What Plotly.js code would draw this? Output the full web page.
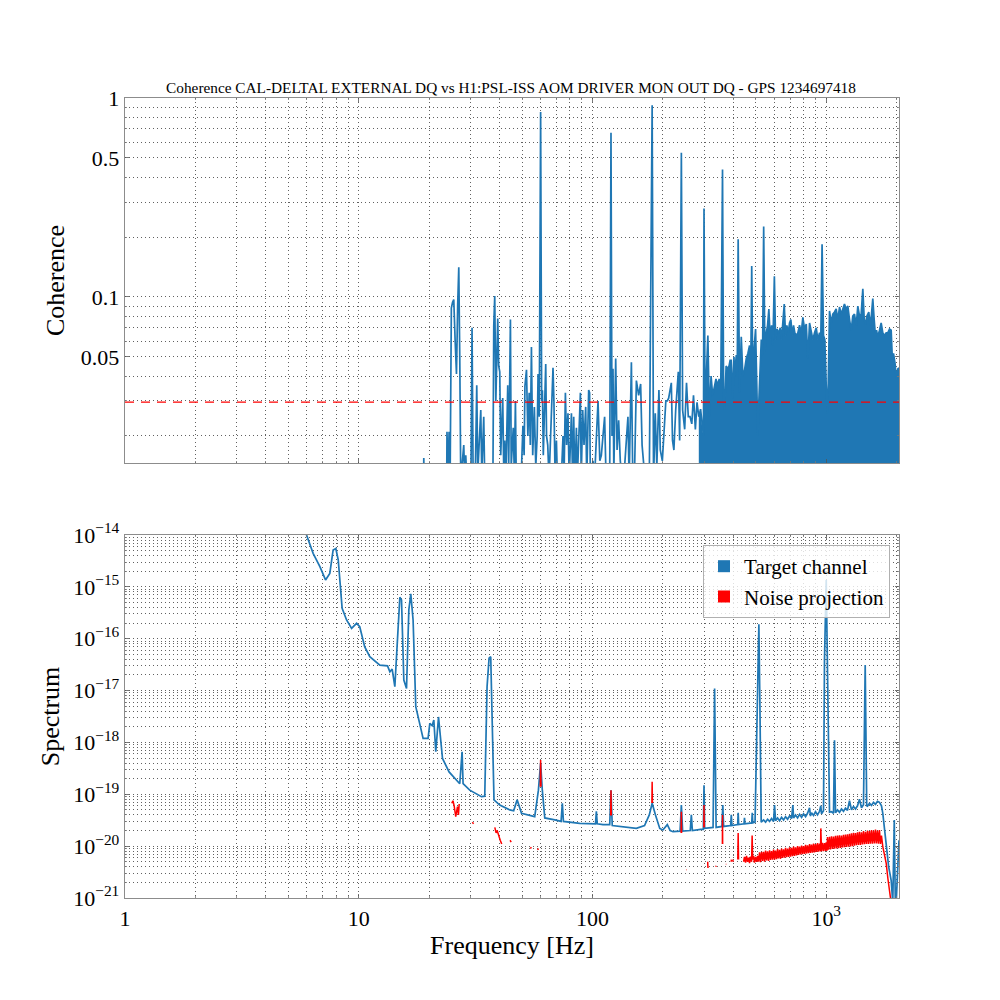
<!DOCTYPE html>
<html>
<head>
<meta charset="utf-8">
<script src="https://cdn.plot.ly/plotly-3.0.1.min.js"></script>
<style>html,body{margin:0;padding:0;background:#fff}#chart{width:1000px;height:1000px}</style>
</head>
<body>
<div id="chart"></div>
<script>
// ---------------- DATA ----------------
const titleText = 'Coherence CAL-DELTAL EXTERNAL DQ vs H1:PSL-ISS AOM DRIVER MON OUT DQ - GPS 1234697418';

// Coherence (top panel)
const freqCoh = [1,18.8,18.98,19.2,23.7,23.85,24.1,24.35,24.6,24.9,25.2,25.5,25.85,26.19,26.5,26.79,27.05,27.32,28.14,28.4,28.7,29.0,30.2,30.53,30.85,31.5,31.98,32.3,33.27,33.6,34.26,34.6,37.5,37.81,38.18,38.6,39.32,39.7,40.11,40.5,41.3,41.7,42.13,42.6,43.39,43.8,44.56,44.9,45.81,46.3,46.81,47.2,49.5,50.4,51.0,51.4,52.2,52.9,53.6,54.2,54.8,55.5,56.4,57.2,58.0,58.5,59.2,60,60.6,61.07,61.6,62.3,63.09,63.6,64.35,65.2,66.5,67.78,68.4,69.2,70.1,70.8,73.5,74.8,75.6,76.58,77.5,78.56,79.5,81.26,82.2,83.12,84.0,85.35,86.1,88.78,89.5,90.81,92,93.53,94.5,96.32,97.2,97.94,100.5,102,105.6,106.6,107.5,109.1,112.7,114,116.1,118.5,120,121.2,122.4,123.4,125.7,127.4,129.4,131.5,133.3,136,141.8,143.5,146.7,148.5,151.5,154.1,157.6,160.7,163,166,170,175,180,182.5,185.6,188.5,192.4,195,199,206,209,211.8,217.4,220,223,227,232.9,236,240,243,248,252.5,257,261.4,266,270.5,275.5,280,285,290,295,298.5,300,303,306.6,311.6,316.6,321.6,326.7,332,337.5,343,348.5,354,360,364,367.5,373,379,384,388,392.5,398.7,403,405.4,412.3,416,420,425.9,433,439.9,447.4,454.9,462.2,469.9,476,480,484.1,488.9,498.6,505,510,515,527.4,534.1,540,546.3,553.9,561.1,568.3,576.2,583.7,591.2,600,607.1,615,627.2,635.9,643.9,652.2,661.3,669.9,678.4,687.8,696.7,705.8,715.4,724.7,734.1,744.2,756.1,769,782,794.3,807.8,821.4,834.4,848.6,862.8,876.6,891.2,906.2,920.6,936.1,948.3,960,973.6,986.3,1000,1010,1019.8,1033,1050.5,1067,1085,1103,1121,1140,1159,1178,1197,1217,1237,1258,1279,1299,1321,1344,1365,1388,1411,1434,1454,1472,1491,1521,1542,1562,1582,1604,1620,1641,1662,1690,1718,1746,1775,1805,1834,1865,1896,1915,1940,1972,1992,2024,2048];
const coherence = [0.005,0.005,0.0155,0.005,0.005,0.021,0.012,0.021,0.012,0.088,0.094,0.097,0.06,0.041,0.09,0.141,0.05,0.012,0.018,0.012,0.016,0.012,0.012,0.070,0.013,0.012,0.036,0.013,0.027,0.013,0.025,0.012,0.012,0.071,0.101,0.03,0.078,0.045,0.042,0.016,0.031,0.014,0.019,0.012,0.036,0.014,0.077,0.014,0.022,0.013,0.030,0.012,0.012,0.0225,0.016,0.0356,0.043,0.02,0.033,0.018,0.056,0.016,0.028,0.014,0.02,0.041,0.025,0.85,0.03,0.034,0.016,0.024,0.046,0.02,0.018,0.012,0.022,0.044,0.03,0.012,0.019,0.012,0.012,0.02,0.013,0.033,0.018,0.026,0.012,0.026,0.012,0.025,0.012,0.022,0.012,0.033,0.012,0.027,0.018,0.028,0.012,0.034,0.033,0.012,0.015,0.012,0.030,0.023,0.015,0.016,0.025,0.014,0.013,0.013,0.668,0.02,0.0435,0.013,0.049,0.017,0.024,0.015,0.013,0.012,0.025,0.012,0.047,0.014,0.014,0.038,0.032,0.0365,0.018,0.014,0.014,0.012,0.92,0.012,0.026,0.014,0.034,0.017,0.015,0.030,0.030,0.031,0.037,0.019,0.017,0.027,0.042,0.019,0.53,0.027,0.0216,0.037,0.025,0.025,0.023,0.032,0.0216,0.0295,0.025,0.0273,0.0216,0.020,0.278,0.03,0.0387,0.064,0.025,0.040,0.032,0.036,0.0387,0.036,0.0387,0.037,0.437,0.03,0.0273,0.045,0.0435,0.045,0.048,0.048,0.031,0.05,0.040,0.051,0.04,0.195,0.033,0.063,0.040,0.043,0.049,0.052,0.057,0.049,0.143,0.05,0.051,0.069,0.03,0.020,0.03,0.061,0.051,0.226,0.053,0.066,0.072,0.087,0.061,0.072,0.057,0.127,0.061,0.069,0.066,0.070,0.061,0.080,0.092,0.064,0.072,0.066,0.074,0.077,0.064,0.072,0.066,0.064,0.066,0.072,0.066,0.079,0.069,0.073,0.049,0.074,0.066,0.061,0.066,0.070,0.061,0.066,0.064,0.184,0.064,0.061,0.036,0.026,0.036,0.085,0.074,0.082,0.084,0.087,0.077,0.089,0.082,0.087,0.092,0.087,0.090,0.077,0.068,0.080,0.082,0.072,0.090,0.080,0.082,0.110,0.077,0.073,0.080,0.084,0.072,0.082,0.098,0.077,0.066,0.068,0.063,0.068,0.074,0.066,0.064,0.066,0.066,0.069,0.068,0.051,0.052,0.046,0.0387,0.0435,0.044];

// Significance threshold (red dashed)
const thresholdFreq = [1, 2048];
const thresholdVal = [0.0296, 0.0296];

// Target channel spectrum (bottom, blue)
const freqTarget = [5.0,5.98,6.38,6.82,7.21,7.52,7.77,7.98,8.17,8.49,8.87,9.32,9.79,10.1,10.6,11.15,12.31,13.28,13.59,13.9,14.27,14.74,14.99,15.24,15.59,16.01,16.38,16.70,17.08,17.54,18.13,18.85,19.8,20.14,20.6,20.95,21.36,21.94,22.82,24.35,27.05,27.68,27.95,29.85,33.5,34.6,35.4,36.1,36.7,37.3,37.9,40.1,44.3,46.0,47.6,49.7,56.6,58.7,60.0,61.0,62.5,69.0,73.4,74.3,75.1,88.2,103.0,103.9,104.8,110.9,118.5,120.0,121.5,154,167,175,180,186,194,200,209,215,221,237,240,243,262,264.8,267.5,290,298,300,302,328,333,338,358,361,364,390,392.5,395,418,420,422,445,447,449,480,482.6,485,496,506,510.5,515,520,527,539.4,550.1,561.0,572.2,583.6,595.2,601,607.1,619.2,631.5,644.1,656.9,669.9,683.3,696.9,710.7,719.8,724.9,739.3,754.1,769.0,784.4,799.9,815.9,831.8,848.6,856,865.1,882.4,899.9,917.9,936.1,948,954.8,973.6,983,1000,1008,1020,1033,1053.4,1074.5,1085,1095.7,1117.6,1139.7,1162.5,1185.5,1209.2,1233.1,1257.7,1282.6,1308.3,1334.2,1360.8,1387.7,1415.5,1443.5,1468,1490,1501.4,1531.4,1561.7,1592.9,1624.4,1656.8,1689.6,1723.3,1746,1775,1805,1850,1896,1926,1955,1975,1992,2030,2048];
const target = [4.0e-14,1.0e-14,4.43e-15,2.45e-15,1.36e-15,1.82e-15,5.14e-15,5.5e-15,3.3e-15,3.85e-16,2.3e-16,1.58e-16,1.98e-16,1.7e-16,7.0e-17,4.5e-17,3.1e-17,3.0e-17,2.3e-17,2.6e-17,1.19e-17,2.3e-16,6.3e-16,5.6e-16,1.6e-17,1.1e-17,3.6e-16,7.3e-16,2.3e-16,4.9e-18,2.7e-18,1.2e-18,1.2e-18,2.34e-18,2.1e-18,2.7e-18,6.6e-19,3.1e-18,4.9e-19,2.7e-19,1.6e-19,6.6e-19,1.6e-19,1.2e-19,9.0e-20,9.2e-20,1.19e-17,4.2e-17,4.5e-17,1.1e-18,7.8e-20,6.2e-20,5.0e-20,4.8e-20,7.8e-20,4.3e-20,3.7e-20,1.2e-19,4.0e-19,1.2e-19,3.5e-20,3.2e-20,3.0e-20,6.7e-20,3.0e-20,2.75e-20,2.7e-20,4.7e-20,2.7e-20,2.6e-20,2.6e-20,1.2e-19,2.5e-20,2.2e-20,2.5e-20,4.0e-20,6.7e-20,4.0e-20,2.2e-20,2.05e-20,2.6e-20,2.0e-20,1.9e-20,1.95e-20,6.2e-20,1.95e-20,2.0e-20,4.0e-20,2.0e-20,2.1e-20,2.1e-20,1.5e-19,2.2e-20,2.3e-20,1.1e-17,2.3e-20,2.4e-20,6.2e-20,2.4e-20,2.5e-20,4.0e-20,2.5e-20,2.6e-20,4.4e-20,2.6e-20,2.7e-20,3.5e-20,2.7e-20,2.8e-20,4.4e-20,2.8e-20,2.9e-20,6.6e-18,1.6e-17,1.9e-16,6.6e-18,2.9e-20,3.2e-20,2.9e-20,3.3e-20,3.0e-20,3.4e-20,3.0e-20,6.2e-20,3.1e-20,3.5e-20,3.1e-20,3.6e-20,3.2e-20,3.7e-20,3.3e-20,3.8e-20,3.4e-20,6.2e-20,3.5e-20,4.0e-20,3.5e-20,4.1e-20,3.6e-20,4.2e-20,3.7e-20,4.3e-20,5.5e-20,3.8e-20,4.4e-20,3.9e-20,4.6e-20,4.0e-20,4.7e-20,6.0e-20,4.2e-20,4.8e-20,3.9e-17,1.36e-15,9.4e-17,4.6e-19,4.5e-20,4.6e-20,4.3e-20,1.1e-18,4.4e-20,5.0e-20,4.5e-20,5.2e-20,4.7e-20,5.4e-20,4.9e-20,7.5e-20,5.0e-20,5.8e-20,5.2e-20,6.0e-20,8.0e-20,5.5e-20,6.3e-20,3.1e-17,6.0e-20,5.9e-20,6.7e-20,6.1e-20,7.0e-20,6.4e-20,7.3e-20,7.0e-20,6.0e-20,4.3e-20,2.0e-20,9.9e-21,4.0e-21,2.2e-21,8.0e-22,3.2e-20,8.0e-22,8.0e-22,5.5e-21,1.3e-20];

// Noise projection (bottom, red); null separates segments
const freqNoise = [25.0,25.3,25.6,25.8,26.0,26.2,26.45,26.7,26.9,null,30.6,31.0,null,38.2,38.7,39.1,39.7,40.3,40.9,null,44.4,44.9,null,54.2,54.8,null,58.2,58.7,null,59.8,60.0,60.2,null,119.6,120.0,120.4,null,179.5,180,180.5,null,239.5,240,240.5,null,252,253,null,299.5,300,300.5,null,311,312,null,337,338,null,359.5,360,360.5,null,372,373.5,null,392,393,null,398,400,null,418.5,420,421.5,null,
443,447,451.8,456,460.8,465,469.9,474,479.3,482,484.5,488.9,493,498.6,503,508.5,513,518.6,523,528.9,534,539.4,544.7,550.1,555.5,561.0,566.6,572.2,577.9,583.6,589.4,595.2,601.1,607.1,613.1,619.2,625.3,631.5,637.8,644.1,650.5,656.9,663.4,669.9,676.6,683.3,690.0,696.9,703.8,710.7,717.8,724.9,732.0,739.3,746.7,754.1,761.5,769.0,776.7,784.4,792.1,799.9,807.9,815.9,823.8,831.8,840.2,848.6,856.8,865.1,873.7,882.4,891.1,899.9,908.9,917.9,927.0,936.1,945.4,948,954.8,964.1,973.6,983.3,993.1,1000,1007,1012.7,1022.7,1032.9,1043.1,1053.4,1063.9,1074.5,1085,1095.7,1106.6,1117.6,1128.6,1139.7,1151.0,1162.5,1174,1185.5,1197.3,1209.2,1221.1,1233.1,1245.3,1257.7,1270.1,1282.6,1295.4,1308.3,1321.2,1334.2,1347.4,1360.8,1374.2,1387.7,1401.5,1415.5,1429.4,1443.5,1457.8,1472.3,1486.8,1501.4,1516.3,1531.4,1546.5,1561.7,1577.2,1592.9,1608.6,1624.4,1640.5,1656.8,1673.1,1689.6,1706.3,1723.3,1746,1775,1805,1835,1865,1896];
const noise = [6.7e-20,7.5e-20,6.0e-20,5.0e-20,3.7e-20,4.5e-20,5.8e-20,4.0e-20,6.5e-20,null,2.9e-20,2.7e-20,null,2.3e-20,1.8e-20,2.0e-20,1.5e-20,1.3e-20,1.1e-20,null,1.3e-20,1.2e-20,null,9.0e-21,9.5e-21,null,9.0e-21,8.5e-21,null,1.4e-19,4.6e-19,1.4e-19,null,3.9e-20,1.2e-19,3.9e-20,null,6.8e-20,1.75e-19,6.8e-20,null,1.8e-20,4.6e-20,1.8e-20,null,3.5e-21,3.5e-21,null,2.3e-20,6.2e-20,2.3e-20,null,5.0e-21,3.8e-21,null,4.0e-21,4.2e-21,null,1.1e-20,4.0e-20,1.1e-20,null,4.5e-21,4.5e-21,null,5.0e-21,5.5e-21,null,5.5e-21,5.0e-21,null,5.5e-21,1.8e-20,5.5e-21,null,
5.0e-21,6.2e-21,4.8e-21,6.5e-21,5.0e-21,6.0e-21,4.7e-21,6.3e-21,5.0e-21,1.6e-20,5.5e-21,6.5e-21,4.8e-21,6.2e-21,5.0e-21,6.5e-21,5.0e-21,7.6e-21,4.9e-21,7.8e-21,5.2e-21,7.8e-21,5.0e-21,8.2e-21,5.3e-21,7.9e-21,5.2e-21,8.3e-21,5.4e-21,8.0e-21,5.5e-21,8.6e-21,5.5e-21,8.2e-21,5.6e-21,8.8e-21,5.8e-21,8.5e-21,5.7e-21,9.0e-21,5.9e-21,8.7e-21,6.0e-21,9.3e-21,6.1e-21,9.0e-21,6.2e-21,9.5e-21,6.3e-21,9.3e-21,6.4e-21,9.8e-21,6.5e-21,9.5e-21,6.6e-21,1.0e-20,6.8e-21,9.8e-21,6.9e-21,1.03e-20,7.0e-21,1.0e-20,7.1e-21,1.06e-20,7.2e-21,1.04e-20,7.3e-21,1.1e-20,7.4e-21,1.07e-20,7.5e-21,1.12e-20,7.6e-21,1.1e-20,7.7e-21,1.14e-20,7.8e-21,1.12e-20,7.9e-21,2.2e-20,8.0e-21,1.16e-20,8.0e-21,1.14e-20,8.1e-21,1.18e-20,8.2e-21,1.5e-20,8.5e-21,1.52e-20,8.6e-21,1.55e-20,8.8e-21,1.53e-20,8.9e-21,1.58e-20,9.0e-21,1.6e-20,9.1e-21,1.62e-20,9.2e-21,1.6e-20,9.4e-21,1.66e-20,9.5e-21,1.68e-20,9.6e-21,1.7e-20,9.8e-21,1.73e-20,9.9e-21,1.76e-20,1.0e-20,1.8e-20,1.02e-20,1.78e-20,1.04e-20,1.85e-20,1.05e-20,1.88e-20,1.06e-20,1.85e-20,1.08e-20,1.95e-20,1.09e-20,1.9e-20,1.1e-20,2.0e-20,1.1e-20,1.95e-20,1.12e-20,2.05e-20,1.12e-20,2.0e-20,1.13e-20,2.1e-20,1.13e-20,2.0e-20,1.12e-20,2.05e-20,1.1e-20,1.6e-20,9.8e-21,7.0e-21,4.7e-21,2.4e-21,1.2e-21,8.0e-22];

// Axis ticks
const xTickVals = [1, 10, 100, 1000];
const xTickText = ['1', '10', '100', '10<sup>3</sup>'];
const cohTickVals = [0.05, 0.1, 0.5, 1];
const cohTickText = ['0.05', '0.1', '0.5', '1'];
const cohMinorVals = [0.02,0.03,0.04,0.06,0.07,0.08,0.09,0.2,0.3,0.4,0.6,0.7,0.8,0.9];
const specExponents = [-21,-20,-19,-18,-17,-16,-15,-14];

// ---------------- LAYOUT HELPERS ----------------
const FONT = 'Liberation Serif, serif';
const BLUE = '#1f77b4';
const xMinor = [];
for (let d = 1; d <= 1000; d *= 10) for (let k = 2; k <= 9; k++) if (k * d <= 2048) xMinor.push(k * d);
const specTickVals = specExponents.map(e => Math.pow(10, e));
const specTickText = specExponents.map(e => '10<sup>\u2212' + Math.abs(e) + '</sup>');
const specMinor = [];
specExponents.slice(0, -1).forEach(e => { for (let k = 2; k <= 9; k++) specMinor.push(k * Math.pow(10, e)); });

// the dense high-frequency part of the coherence is drawn as a filled band
const denseStart = freqCoh.findIndex(f => f >= 285);

const gridCommon = {
  showgrid: true, gridcolor: '#3a3a3a', gridwidth: 0.8, griddash: '1px,3px',
  showline: true, linecolor: '#8c8c8c', linewidth: 1.3, mirror: 'allticks',
  ticks: 'inside', ticklen: 4, tickcolor: '#555', tickwidth: 0.8,
  zeroline: false, tickfont: {family: FONT, size: 22, color: '#000'}
};
const minorCommon = {showgrid: true, gridcolor: '#3a3a3a', gridwidth: 0.8, griddash: '1px,3px', ticks: 'inside', ticklen: 2, tickcolor: '#777'};

const xRange = [0, Math.log10(2048)];

const traces = [
  {x: freqCoh.slice(denseStart), y: coherence.slice(denseStart), type: 'scatter', mode: 'lines', xaxis: 'x', yaxis: 'y',
   line: {color: BLUE, width: 0}, fill: 'tozeroy', fillcolor: BLUE, showlegend: false},
  {x: freqCoh, y: coherence, type: 'scatter', mode: 'lines', xaxis: 'x', yaxis: 'y',
   line: {color: BLUE, width: 1.7}, showlegend: false},
  {x: thresholdFreq, y: thresholdVal, type: 'scatter', mode: 'lines', xaxis: 'x', yaxis: 'y',
   line: {color: '#ff0000', width: 1.4, dash: '9px,7px'}, showlegend: false},
  {x: freqTarget, y: target, type: 'scatter', mode: 'lines', xaxis: 'x2', yaxis: 'y2',
   line: {color: BLUE, width: 1.7}, showlegend: false},
  {x: freqNoise, y: noise, type: 'scatter', mode: 'lines', xaxis: 'x2', yaxis: 'y2', connectgaps: false,
   line: {color: '#ff0000', width: 1.5}, showlegend: false},
  {x: [null], y: [null], type: 'bar', xaxis: 'x2', yaxis: 'y2', name: 'Target channel', marker: {color: BLUE}},
  {x: [null], y: [null], type: 'bar', xaxis: 'x2', yaxis: 'y2', name: 'Noise projection', marker: {color: '#ff0000'}}
];

const layout = {
  width: 1000, height: 1000,
  paper_bgcolor: '#fff', plot_bgcolor: '#fff',
  margin: {l: 125, r: 101, t: 98, b: 102},
  font: {family: FONT, color: '#000'},
  title: {text: titleText, font: {family: FONT, size: 15.3, color: '#000'},
          x: 0.511, xanchor: 'center', xref: 'container', y: 0.912, yanchor: 'middle', yref: 'container'},
  showlegend: true,
  legend: {x: 0.9884, xanchor: 'right', y: 0.4412, yanchor: 'top',
           bgcolor: 'rgba(255,255,255,0.8)', bordercolor: '#b0b0b0', borderwidth: 1,
           font: {family: FONT, size: 21, color: '#000'}, tracegroupgap: 0},
  xaxis: Object.assign({}, gridCommon, {type: 'log', range: xRange, domain: [0, 1], anchor: 'y',
          tickmode: 'array', tickvals: xTickVals, showticklabels: false,
          minor: Object.assign({}, minorCommon, {tickmode: 'array', tickvals: xMinor})}),
  yaxis: Object.assign({}, gridCommon, {type: 'log', range: [-1.835, 0], domain: [0.5437, 1], anchor: 'x',
          tickmode: 'array', tickvals: cohTickVals, ticktext: cohTickText,
          title: {text: 'Coherence', font: {family: FONT, size: 26, color: '#000'}, standoff: 8},
          minor: Object.assign({}, minorCommon, {tickmode: 'array', tickvals: cohMinorVals})}),
  xaxis2: Object.assign({}, gridCommon, {type: 'log', range: xRange, domain: [0, 1], anchor: 'y2',
          tickmode: 'array', tickvals: xTickVals, ticktext: xTickText,
          title: {text: 'Frequency [Hz]', font: {family: FONT, size: 26, color: '#000'}, standoff: 6},
          minor: Object.assign({}, minorCommon, {tickmode: 'array', tickvals: xMinor})}),
  yaxis2: Object.assign({}, gridCommon, {type: 'log', range: [-21, -14], domain: [0, 0.45375], anchor: 'x2',
          tickmode: 'array', tickvals: specTickVals, ticktext: specTickText,
          title: {text: 'Spectrum', font: {family: FONT, size: 26, color: '#000'}, standoff: 6},
          minor: Object.assign({}, minorCommon, {tickmode: 'array', tickvals: specMinor})})
};

Plotly.newPlot('chart', traces, layout, {staticPlot: true, displayModeBar: false});
</script>
</body>
</html>
